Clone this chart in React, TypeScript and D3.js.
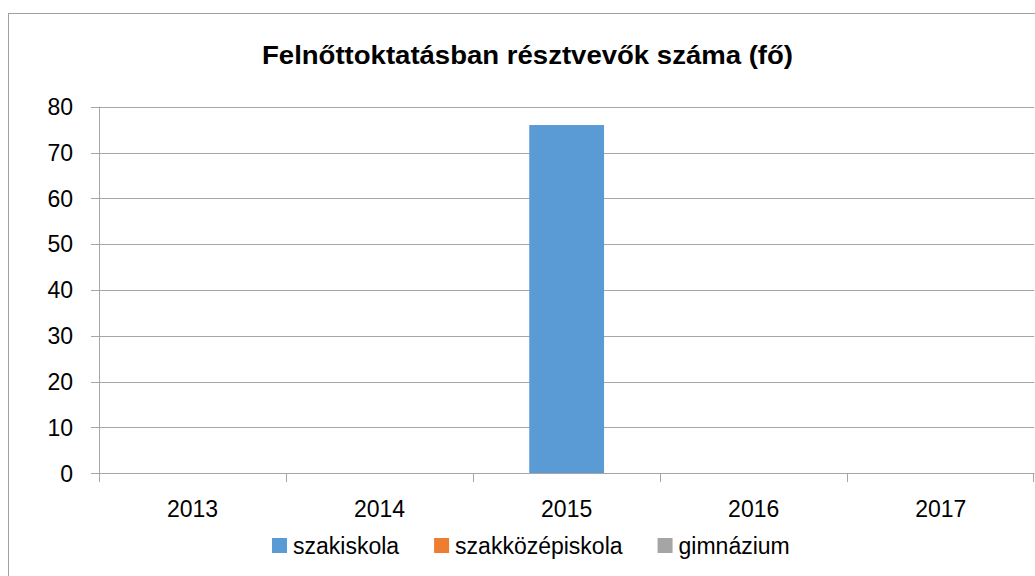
import React from "react";
import * as d3 from "d3";

const title = "Felnőttoktatásban résztvevők száma (fő)";
const years = ["2013", "2014", "2015", "2016", "2017"];
const seriesNames = ["szakiskola", "szakközépiskola", "gimnázium"];
const seriesColors = ["#5B9BD5", "#ED7D31", "#A5A5A5"];
const szakiskola = [0, 0, 76, 0, 0];
const szakkozepiskola = [0, 0, 0, 0, 0];
const gimnazium = [0, 0, 0, 0, 0];
const yTicks = [0, 10, 20, 30, 40, 50, 60, 70, 80];

const FONT = "'Liberation Sans', Arial, sans-serif";

function measure(text: string, font: string): number {
  if (typeof document === "undefined") return text.length * 10;
  const c = document.createElement("canvas");
  const ctx = c.getContext("2d");
  if (!ctx) return text.length * 10;
  ctx.font = font;
  return ctx.measureText(text).width;
}

export default function App() {
  const W = 1035;
  const H = 576;
  const left = 99;
  const right = 1034.3;
  const y0 = 473.3;
  const yTop = 106.7;

  const x = d3.scaleBand<string>().domain(years).range([left, right]).padding(0);
  const y = d3.scaleLinear().domain([0, 80]).range([y0, yTop]);
  const bw = x.bandwidth();
  const barW = bw * 0.4;

  const allSeries = [szakiskola, szakkozepiskola, gimnazium];

  // legend layout
  const legendFont = `23px ${FONT}`;
  let cursor = 272;
  const legendItems = seriesNames.map((name, i) => {
    const sx = cursor;
    const tx = sx + 21;
    const w = measure(name, legendFont);
    cursor = tx + w + 35;
    return { name, color: seriesColors[i], sx, tx };
  });

  const gridColor = "#a6a6a6";

  return (
    <svg
      width={W}
      height={H}
      style={{ position: "fixed", left: 0, top: 0, background: "#fff" }}
      fontFamily={FONT}
    >
      <rect x={0} y={0} width={W} height={H} fill="#fff" />
      <rect x={8.5} y={13.5} width={1060} height={600} fill="none" stroke="#a0a0a0" strokeWidth={1} />
      <text
        x={527.5}
        y={64}
        textAnchor="middle"
        fontWeight="bold"
        fontSize={26}
        textLength={531}
        lengthAdjust="spacingAndGlyphs"
        fill="#000"
      >
        {title}
      </text>

      {/* gridlines and y ticks */}
      {yTicks.map((t) => (
        <g key={t}>
          <line
            x1={91}
            x2={right}
            y1={Math.round(y(t)) + 0.5}
            y2={Math.round(y(t)) + 0.5}
            stroke={gridColor}
            strokeWidth={1}
          />
          <text x={73} y={y(t) + 8.3} textAnchor="end" fontSize={23} fill="#000">
            {t}
          </text>
        </g>
      ))}

      {/* bars */}
      {allSeries.map((vals, si) =>
        vals.map((v, i) =>
          v > 0 ? (
            <rect
              key={`${si}-${i}`}
              x={(x(years[i]) as number) + (bw - barW) / 2}
              y={y(v)}
              width={barW}
              height={y(0) - y(v)}
              fill={seriesColors[si]}
            />
          ) : null
        )
      )}

      {/* y axis */}
      <line x1={99.5} x2={99.5} y1={yTop} y2={482} stroke={gridColor} strokeWidth={1} />
      {/* x axis */}
      <line x1={99} x2={right} y1={Math.round(y0) + 0.5} y2={Math.round(y0) + 0.5} stroke={gridColor} strokeWidth={1} />
      {years.map((yr) => (
        <line
          key={`t${yr}`}
          x1={Math.round(x(yr) as number) + 0.5}
          x2={Math.round(x(yr) as number) + 0.5}
          y1={y0}
          y2={482}
          stroke={gridColor}
          strokeWidth={1}
        />
      ))}
      <line x1={Math.round(right) - 0.5} x2={Math.round(right) - 0.5} y1={y0} y2={482} stroke={gridColor} strokeWidth={1} />
      {years.map((yr) => (
        <text
          key={`l${yr}`}
          x={(x(yr) as number) + bw / 2}
          y={516.7}
          textAnchor="middle"
          fontSize={23}
          fill="#000"
        >
          {yr}
        </text>
      ))}

      {/* legend */}
      {legendItems.map((it) => (
        <g key={it.name}>
          <rect x={it.sx} y={538} width={15} height={15} fill={it.color} />
          <text x={it.tx} y={553.5} fontSize={23} fill="#000">
            {it.name}
          </text>
        </g>
      ))}
    </svg>
  );
}
